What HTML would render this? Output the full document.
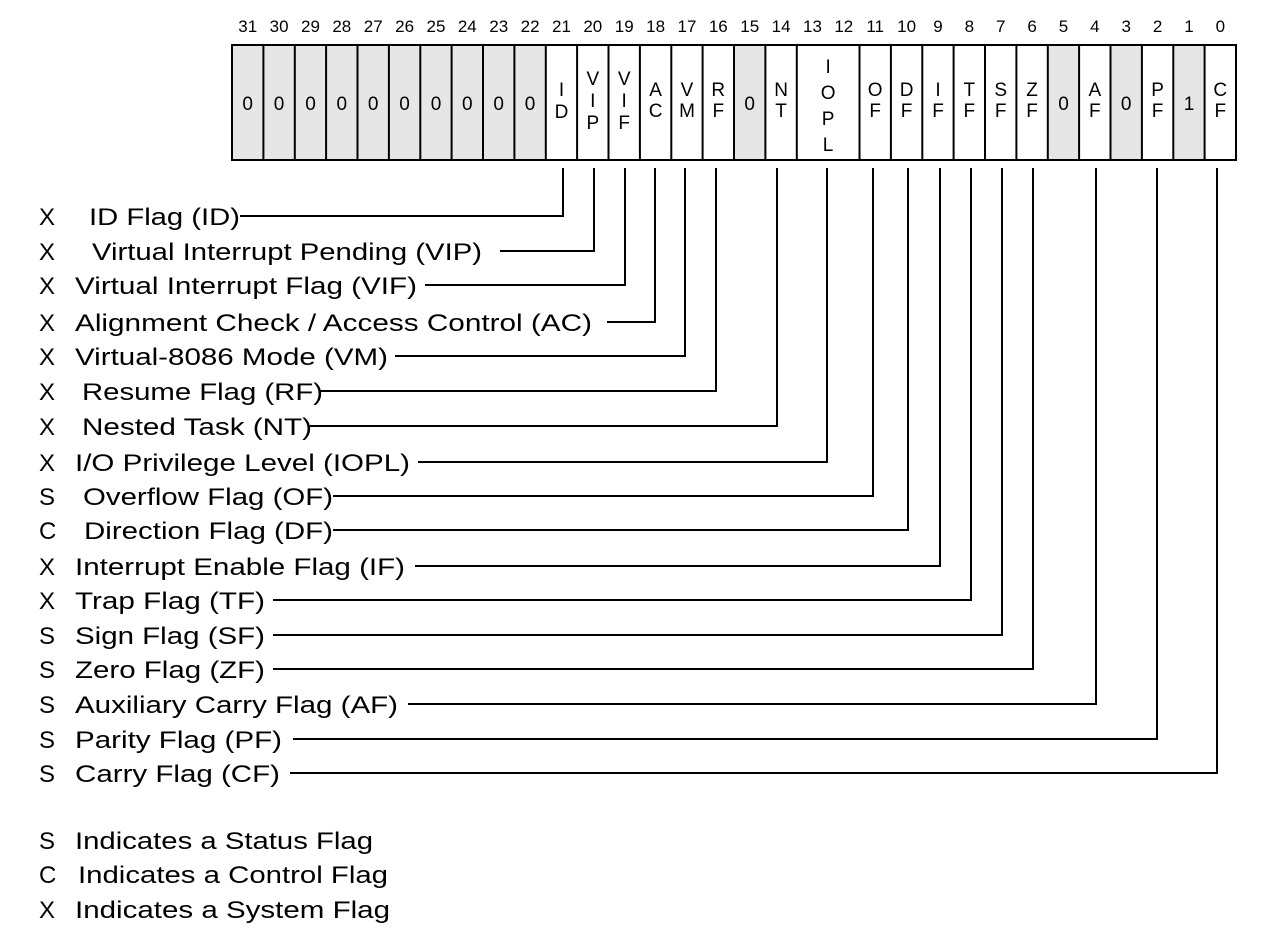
<!DOCTYPE html>
<html><head><meta charset="utf-8"><style>
html,body{margin:0;padding:0;background:#fff;}
svg{display:block;}
text{font-family:"Liberation Sans",Arial,sans-serif;fill:#000;}
</style></head><body>
<svg width="1288" height="929" viewBox="0 0 1288 929" xmlns="http://www.w3.org/2000/svg">
<g fill="#e6e6e6">
<rect x="232" y="45" width="313.8" height="115"/>
<rect x="734" y="45" width="31.4" height="115"/>
<rect x="1047.8" y="45" width="31.3" height="115"/>
<rect x="1110.5" y="45" width="31.4" height="115"/>
<rect x="1173.3" y="45" width="31.3" height="115"/>
</g>
<g stroke="#000" stroke-width="2">
<line x1="263.4" y1="45" x2="263.4" y2="160"/><line x1="294.8" y1="45" x2="294.8" y2="160"/>
<line x1="326.1" y1="45" x2="326.1" y2="160"/><line x1="357.5" y1="45" x2="357.5" y2="160"/>
<line x1="388.9" y1="45" x2="388.9" y2="160"/><line x1="420.3" y1="45" x2="420.3" y2="160"/>
<line x1="451.6" y1="45" x2="451.6" y2="160"/><line x1="483" y1="45" x2="483" y2="160"/>
<line x1="514.4" y1="45" x2="514.4" y2="160"/><line x1="545.8" y1="45" x2="545.8" y2="160"/>
<line x1="577.1" y1="45" x2="577.1" y2="160"/><line x1="608.5" y1="45" x2="608.5" y2="160"/>
<line x1="639.9" y1="45" x2="639.9" y2="160"/><line x1="671.3" y1="45" x2="671.3" y2="160"/>
<line x1="702.6" y1="45" x2="702.6" y2="160"/><line x1="734" y1="45" x2="734" y2="160"/>
<line x1="765.4" y1="45" x2="765.4" y2="160"/><line x1="796.8" y1="45" x2="796.8" y2="160"/>
<line x1="859.5" y1="45" x2="859.5" y2="160"/><line x1="890.9" y1="45" x2="890.9" y2="160"/>
<line x1="922.3" y1="45" x2="922.3" y2="160"/><line x1="953.6" y1="45" x2="953.6" y2="160"/>
<line x1="985" y1="45" x2="985" y2="160"/><line x1="1016.4" y1="45" x2="1016.4" y2="160"/>
<line x1="1047.8" y1="45" x2="1047.8" y2="160"/><line x1="1079.1" y1="45" x2="1079.1" y2="160"/>
<line x1="1110.5" y1="45" x2="1110.5" y2="160"/><line x1="1141.9" y1="45" x2="1141.9" y2="160"/>
<line x1="1173.3" y1="45" x2="1173.3" y2="160"/><line x1="1204.6" y1="45" x2="1204.6" y2="160"/>
</g>
<rect x="232" y="45" width="1004" height="115" fill="none" stroke="#000" stroke-width="2"/>

<g font-size="17" text-anchor="middle">
<text x="247.7" y="32">31</text><text x="279.1" y="32">30</text><text x="310.5" y="32">29</text><text x="341.8" y="32">28</text>
<text x="373.2" y="32">27</text><text x="404.6" y="32">26</text><text x="436" y="32">25</text><text x="467.3" y="32">24</text>
<text x="498.7" y="32">23</text><text x="530.1" y="32">22</text><text x="561.5" y="32">21</text><text x="592.8" y="32">20</text>
<text x="624.2" y="32">19</text><text x="655.6" y="32">18</text><text x="687" y="32">17</text><text x="718.3" y="32">16</text>
<text x="749.7" y="32">15</text><text x="781.1" y="32">14</text><text x="812.5" y="32">13</text><text x="843.8" y="32">12</text>
<text x="875.2" y="32">11</text><text x="906.6" y="32">10</text><text x="938" y="32">9</text><text x="969.3" y="32">8</text>
<text x="1000.7" y="32">7</text><text x="1032.1" y="32">6</text><text x="1063.5" y="32">5</text><text x="1094.8" y="32">4</text>
<text x="1126.2" y="32">3</text><text x="1157.6" y="32">2</text><text x="1189" y="32">1</text><text x="1220.3" y="32">0</text>
</g>

<g font-size="19" text-anchor="middle">
<text x="247.7" y="110">0</text><text x="279.1" y="110">0</text><text x="310.5" y="110">0</text><text x="341.8" y="110">0</text>
<text x="373.2" y="110">0</text><text x="404.6" y="110">0</text><text x="436" y="110">0</text><text x="467.3" y="110">0</text>
<text x="498.7" y="110">0</text><text x="530.1" y="110">0</text>
<text x="561.5" y="96">I</text><text x="561.5" y="118">D</text>
<text x="592.8" y="85">V</text><text x="592.8" y="107">I</text><text x="592.8" y="129">P</text>
<text x="624.2" y="85">V</text><text x="624.2" y="107">I</text><text x="624.2" y="129">F</text>
<text x="655.6" y="96">A</text><text x="655.6" y="117">C</text>
<text x="687" y="96">V</text><text x="687" y="117">M</text>
<text x="718.3" y="96">R</text><text x="718.3" y="117">F</text>
<text x="749.7" y="110">0</text>
<text x="781.1" y="96">N</text><text x="781.1" y="117">T</text>
<text x="828.1" y="73">I</text><text x="828.1" y="99">O</text><text x="828.1" y="125">P</text><text x="828.1" y="151">L</text>
<text x="875.2" y="96">O</text><text x="875.2" y="117">F</text>
<text x="906.6" y="96">D</text><text x="906.6" y="117">F</text>
<text x="938" y="96">I</text><text x="938" y="117">F</text>
<text x="969.3" y="96">T</text><text x="969.3" y="117">F</text>
<text x="1000.7" y="96">S</text><text x="1000.7" y="117">F</text>
<text x="1032.1" y="96">Z</text><text x="1032.1" y="117">F</text>
<text x="1063.5" y="110">0</text>
<text x="1094.8" y="96">A</text><text x="1094.8" y="117">F</text>
<text x="1126.2" y="110">0</text>
<text x="1157.6" y="96">P</text><text x="1157.6" y="117">F</text>
<text x="1189" y="110">1</text>
<text x="1220.3" y="96">C</text><text x="1220.3" y="117">F</text>
</g>

<g fill="none" stroke="#000" stroke-width="2">
<polyline points="240,216 563,216 563,168"/>
<polyline points="500,251 594,251 594,168"/>
<polyline points="425,285 625,285 625,168"/>
<polyline points="607,322 655,322 655,168"/>
<polyline points="395,356 685,356 685,168"/>
<polyline points="320,391 716,391 716,168"/>
<polyline points="310,426 777,426 777,168"/>
<polyline points="418,462 827,462 827,168"/>
<polyline points="333,496 873,496 873,168"/>
<polyline points="333,530 908,530 908,168"/>
<polyline points="415,566 940,566 940,168"/>
<polyline points="273,600 971,600 971,168"/>
<polyline points="273,635 1002,635 1002,168"/>
<polyline points="273,669 1033,669 1033,168"/>
<polyline points="408,704 1096,704 1096,168"/>
<polyline points="293,739 1157,739 1157,168"/>
<polyline points="290,773 1217,773 1217,168"/>
</g>

<g font-size="24">
<text x="39" y="225">X</text><text x="89" y="225" textLength="151" lengthAdjust="spacingAndGlyphs">ID Flag (ID)</text>
<text x="39" y="260">X</text><text x="92" y="260" textLength="390" lengthAdjust="spacingAndGlyphs">Virtual Interrupt Pending (VIP)</text>
<text x="39" y="294">X</text><text x="75" y="294" textLength="342" lengthAdjust="spacingAndGlyphs">Virtual Interrupt Flag (VIF)</text>
<text x="39" y="331">X</text><text x="75" y="331" textLength="517" lengthAdjust="spacingAndGlyphs">Alignment Check / Access Control (AC)</text>
<text x="39" y="365">X</text><text x="75" y="365" textLength="313" lengthAdjust="spacingAndGlyphs">Virtual-8086 Mode (VM)</text>
<text x="39" y="400">X</text><text x="82" y="400" textLength="241" lengthAdjust="spacingAndGlyphs">Resume Flag (RF)</text>
<text x="39" y="435">X</text><text x="82" y="435" textLength="230" lengthAdjust="spacingAndGlyphs">Nested Task (NT)</text>
<text x="39" y="471">X</text><text x="75" y="471" textLength="335" lengthAdjust="spacingAndGlyphs">I/O Privilege Level (IOPL)</text>
<text x="39" y="505">S</text><text x="83" y="505" textLength="250" lengthAdjust="spacingAndGlyphs">Overflow Flag (OF)</text>
<text x="39" y="539">C</text><text x="84" y="539" textLength="249" lengthAdjust="spacingAndGlyphs">Direction Flag (DF)</text>
<text x="39" y="575">X</text><text x="75" y="575" textLength="330" lengthAdjust="spacingAndGlyphs">Interrupt Enable Flag (IF)</text>
<text x="39" y="609">X</text><text x="75" y="609" textLength="190" lengthAdjust="spacingAndGlyphs">Trap Flag (TF)</text>
<text x="39" y="644">S</text><text x="75" y="644" textLength="190" lengthAdjust="spacingAndGlyphs">Sign Flag (SF)</text>
<text x="39" y="678">S</text><text x="75" y="678" textLength="190" lengthAdjust="spacingAndGlyphs">Zero Flag (ZF)</text>
<text x="39" y="713">S</text><text x="75" y="713" textLength="323" lengthAdjust="spacingAndGlyphs">Auxiliary Carry Flag (AF)</text>
<text x="39" y="748">S</text><text x="75" y="748" textLength="207" lengthAdjust="spacingAndGlyphs">Parity Flag (PF)</text>
<text x="39" y="782">S</text><text x="75" y="782" textLength="205" lengthAdjust="spacingAndGlyphs">Carry Flag (CF)</text>
<text x="39" y="849">S</text><text x="75" y="849" textLength="298" lengthAdjust="spacingAndGlyphs">Indicates a Status Flag</text>
<text x="39" y="883">C</text><text x="78" y="883" textLength="310" lengthAdjust="spacingAndGlyphs">Indicates a Control Flag</text>
<text x="39" y="918">X</text><text x="75" y="918" textLength="315" lengthAdjust="spacingAndGlyphs">Indicates a System Flag</text>
</g>
</svg>
</body></html>
